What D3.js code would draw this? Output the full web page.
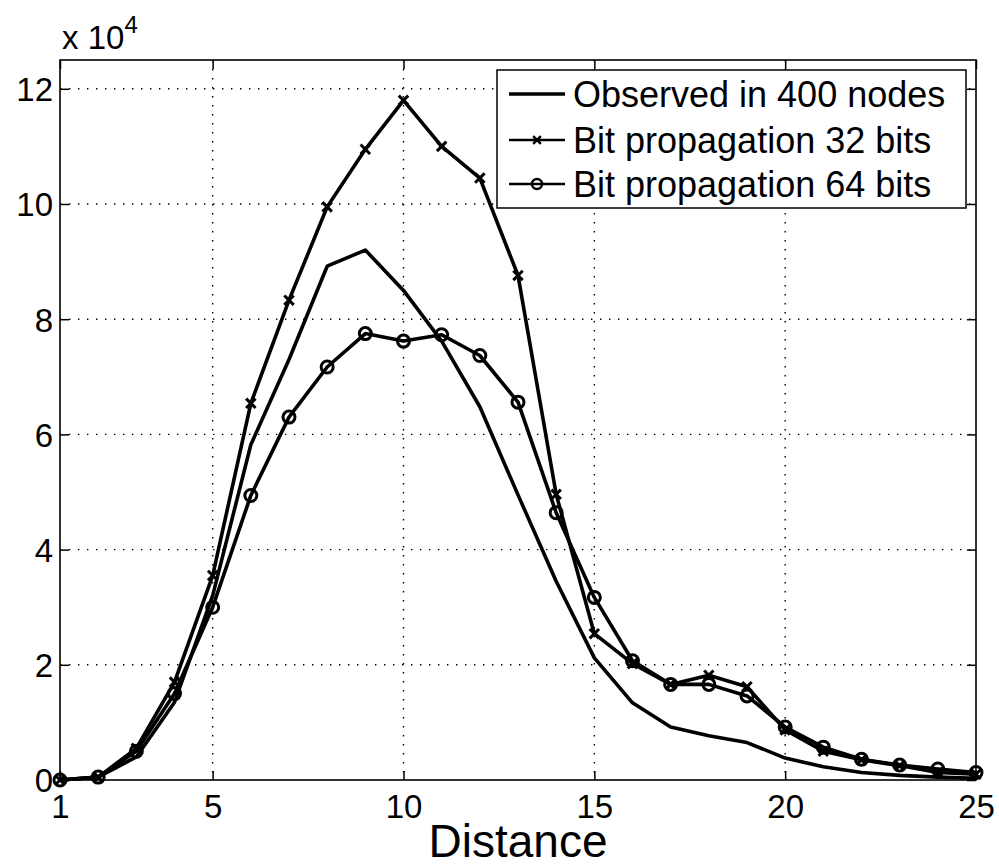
<!DOCTYPE html>
<html>
<head>
<meta charset="utf-8">
<script src="https://cdn.jsdelivr.net/npm/d3@7"></script>
<style>
  html, body { margin: 0; padding: 0; background: #ffffff; }
  svg { display: block; font-family: "Liberation Sans", Arial, Helvetica, sans-serif; }
</style>
</head>
<body>
<div id="chart"></div>
<script>
// values are in units of 10^4
const distance = d3.range(1, 26);
const observed = [0, 0.05, 0.4, 1.35, 3.2, 5.82, 7.3, 8.92, 9.2, 8.5, 7.62, 6.48, 4.95, 3.45, 2.12, 1.34, 0.92, 0.77, 0.65, 0.38, 0.23, 0.13, 0.08, 0.05, 0.03];
const bits32 = [0, 0.05, 0.55, 1.7, 3.55, 6.54, 8.33, 9.95, 10.95, 11.8, 11.0, 10.45, 8.76, 4.96, 2.54, 2.02, 1.66, 1.82, 1.62, 0.87, 0.5, 0.35, 0.25, 0.13, 0.1];
const bits64 = [0, 0.05, 0.5, 1.5, 3.0, 4.94, 6.3, 7.17, 7.75, 7.62, 7.73, 7.37, 6.56, 4.64, 3.17, 2.07, 1.66, 1.66, 1.46, 0.92, 0.57, 0.36, 0.26, 0.19, 0.13];
const xTicks = [1, 5, 10, 15, 20, 25];
const yTicks = [0, 2, 4, 6, 8, 10, 12];
const seriesNames = ['Observed in 400 nodes', 'Bit propagation 32 bits', 'Bit propagation 64 bits'];

const W = 999, H = 868;
const margin = { top: 60, right: 23, bottom: 88, left: 60 };
const width = W - margin.left - margin.right;
const height = H - margin.top - margin.bottom;

const svg = d3.select('#chart')
    .append('svg')
    .attr('width', W)
    .attr('height', H);
const g = svg.append('g')
    .attr('transform', `translate(${margin.left},${margin.top})`);

const x = d3.scaleLinear().domain([1, 25]).range([0, width]);
const y = d3.scaleLinear().domain([0, 12.5]).range([height, 0]);

// grid
g.append('g').selectAll('line')
    .data(xTicks.slice(1, -1))
    .join('line')
    .attr('x1', d => x(d)).attr('x2', d => x(d))
    .attr('y1', 0).attr('y2', height)
    .attr('stroke', '#000').attr('stroke-width', 1.4)
    .attr('stroke-dasharray', '1.4,7.6');
g.append('g').selectAll('line')
    .data(yTicks.slice(1))
    .join('line')
    .attr('x1', 0).attr('x2', width)
    .attr('y1', d => y(d)).attr('y2', d => y(d))
    .attr('stroke', '#000').attr('stroke-width', 1.4)
    .attr('stroke-dasharray', '1.4,7.6');

// axes (ticks inward on all sides)
const tickLen = 9;
const axB = g.append('g').attr('transform', `translate(0,${height})`)
    .call(d3.axisBottom(x).tickValues(xTicks).tickSizeInner(-tickLen).tickSizeOuter(0).tickPadding(20));
const axT = g.append('g')
    .call(d3.axisTop(x).tickValues(xTicks).tickSizeInner(-tickLen).tickSizeOuter(0).tickFormat(''));
const axL = g.append('g')
    .call(d3.axisLeft(y).tickValues(yTicks).tickSizeInner(-tickLen).tickSizeOuter(0).tickPadding(16));
const axR = g.append('g').attr('transform', `translate(${width},0)`)
    .call(d3.axisRight(y).tickValues(yTicks).tickSizeInner(-tickLen).tickSizeOuter(0).tickFormat(''));
[axB, axT, axL, axR].forEach(a => {
    a.select('.domain').remove();
    a.selectAll('line').attr('stroke', '#000').attr('stroke-width', 1.5);
    a.selectAll('text').attr('font-size', 33).attr('fill', '#000')
        .attr('font-family', '"Liberation Sans", Arial, sans-serif');
});
axB.selectAll('text').attr('dy', '0.71em').attr('y', 15);
axL.selectAll('text').attr('dy', '0.36em').attr('x', -7);

g.append('rect')
    .attr('width', width).attr('height', height)
    .attr('fill', 'none').attr('stroke', '#000').attr('stroke-width', 1.6);

// lines
const line = d3.line()
    .x((d, i) => x(distance[i]))
    .y(d => y(d));

[observed, bits32, bits64].forEach(s => {
    g.append('path').datum(s)
        .attr('d', line).attr('fill', 'none')
        .attr('stroke', '#000').attr('stroke-width', 3.6).attr('stroke-linejoin', 'round');
});

// markers
const cross = d3.symbol().type(d3.symbolX).size(60);
g.append('g').selectAll('path')
    .data(bits32)
    .join('path')
    .attr('transform', (d, i) => `translate(${x(distance[i])},${y(d)})`)
    .attr('d', cross)
    .attr('fill', 'none').attr('stroke', '#000').attr('stroke-width', 3);
g.append('g').selectAll('circle')
    .data(bits64)
    .join('circle')
    .attr('cx', (d, i) => x(distance[i]))
    .attr('cy', d => y(d))
    .attr('r', 6)
    .attr('fill', 'none').attr('stroke', '#000').attr('stroke-width', 3);

// y exponent label
const expo = svg.append('text')
    .attr('x', 62).attr('y', 49)
    .attr('font-size', 33).attr('fill', '#000');
expo.append('tspan').text('x 10');
expo.append('tspan').attr('font-size', 24).attr('dy', -16).text('4');

// x label
svg.append('text')
    .attr('x', margin.left + width / 2).attr('y', 857)
    .attr('text-anchor', 'middle')
    .attr('font-size', 46).attr('fill', '#000')
    .text('Distance');

// legend
const lg = svg.append('g').attr('transform', 'translate(497,70)');
lg.append('rect')
    .attr('width', 469).attr('height', 138)
    .attr('fill', '#fff').attr('stroke', '#000').attr('stroke-width', 1.5);
const rowY = [24, 70, 114];
seriesNames.forEach((name, i) => {
    const ly = rowY[i];
    lg.append('line')
        .attr('x1', 12).attr('x2', 68)
        .attr('y1', ly).attr('y2', ly)
        .attr('stroke', '#000').attr('stroke-width', i === 0 ? 3.5 : 2.5);
    if (i === 1) {
        lg.append('path').attr('transform', `translate(40,${ly})`)
            .attr('d', d3.symbol().type(d3.symbolX).size(40))
            .attr('fill', 'none').attr('stroke', '#000').attr('stroke-width', 2.5);
    }
    if (i === 2) {
        lg.append('circle').attr('cx', 40).attr('cy', ly).attr('r', 5)
            .attr('fill', 'none').attr('stroke', '#000').attr('stroke-width', 2.5);
    }
    lg.append('text')
        .attr('x', 76).attr('y', ly + 12.5)
        .attr('font-size', 36).attr('fill', '#000')
        .text(name);
});
</script>
</body>
</html>
